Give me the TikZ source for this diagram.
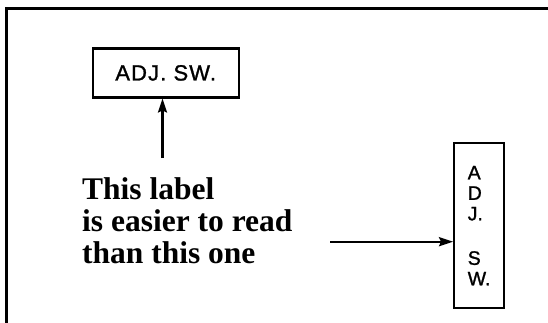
\documentclass[tikz,border=0pt]{standalone}
\usepackage{fontspec}
\setmainfont{Liberation Serif}
\newfontfamily\adjfont[LetterSpace=5,FakeBold=1.2]{Liberation Sans}
\newfontfamily\vertfont[FakeBold=1.2]{Liberation Sans}
\usetikzlibrary{arrows.meta}
\tikzset{
  lbox/.style={draw, line width=2.2pt, inner sep=0pt, anchor=north west},
  pointer/.style={line width=2.2pt, -{Stealth[length=14pt,width=9pt,inset=2pt]}},
  frame/.style={line width=2.6pt},
  bigtext/.style={font=\fontsize{31.5}{32}\selectfont\bfseries, align=left, inner sep=0pt, anchor=north west}
}
\begin{document}
\begin{tikzpicture}[x=1pt,y=-1pt]
\useasboundingbox (0,0) rectangle (548,322);
% outer frame (top and left edges)
\draw[frame] (549,8.5) -- (6.5,8.5) -- (6.5,323);
% horizontal label
\node[lbox, minimum width=146pt, minimum height=49pt,
      font=\fontsize{22}{22}\adjfont] (box1) at (91.6,47.3) {ADJ. SW.};
% vertical label
\node[lbox, minimum width=50pt, minimum height=165pt, align=left,
      font=\fontsize{19.5}{20.5}\vertfont] (box2) at (453,142)
      {A\\D\\J.\\[24pt]S\\W.};
% explanatory text
\node[bigtext] (txt) at (82,177) {This label\\is easier to read\\than this one};
% arrows
\coordinate (a1) at (162.5,158);
\coordinate (a2) at (330,241.7);
\draw[pointer] (a1) -- (a1 |- box1.south);
\draw[pointer] (a2) -- (a2 -| box2.west);
\end{tikzpicture}
\end{document}
